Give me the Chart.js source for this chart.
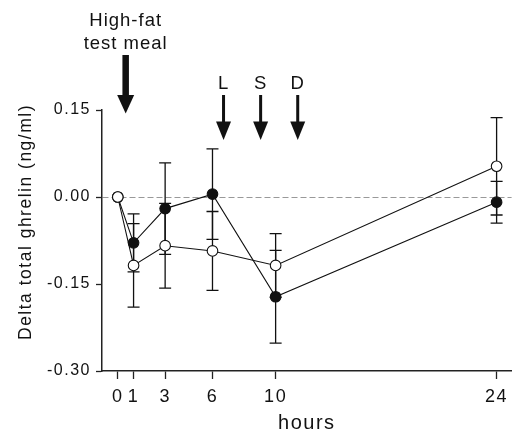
<!DOCTYPE html>
<html>
<head>
<meta charset="utf-8">
<script src="https://cdn.jsdelivr.net/npm/chart.js@4.4.0/dist/chart.umd.min.js"></script>
<style>
  html, body { margin: 0; padding: 0; background: #fff; }
</style>
</head>
<body>
<canvas id="ghrelin" width="518" height="435"></canvas>
<script>
// time points (hours after the test meal)
var hours = [0, 1, 3, 6, 10, 24];
var xTicks = [0, 1, 3, 6, 10, 24];
var yTicks = [-0.30, -0.15, 0.00, 0.15];

// open circles: mean and error
var openMean = [0, -0.118, -0.084, -0.093, -0.118, 0.053];
var openErr  = [0, 0.072, 0.073, 0.068, 0.055, 0.084];
// filled circles: mean and error
var filledMean = [0, -0.079, -0.020, 0.005, -0.172, -0.009];
var filledErr  = [0, 0.050, 0.079, 0.078, 0.080, 0.036];

// meal arrows
var testMealHour = 0.5;
var testMealText = ['High-fat', 'test meal'];
var mealHours = [6.7, 9.05, 11.4];
var mealLabels = ['L', 'S', 'D'];

var yTitle = 'Delta total ghrelin (ng/ml)';
var xTitle = 'hours';

var FONT = "'Liberation Sans', Arial, sans-serif";
var INK = '#111';

function toPoints(means) {
  return hours.map(function (h, i) { return { x: h, y: means[i] }; });
}

// error bars, drawn under the points
var errorBars = {
  id: 'errorBars',
  beforeDatasetsDraw: function (chart) {
    var ctx = chart.ctx;
    var ys = chart.scales.y;
    chart.data.datasets.forEach(function (ds, i) {
      var meta = chart.getDatasetMeta(i);
      meta.data.forEach(function (pt, j) {
        var e = ds.errors[j];
        if (!e) return;
        var top = ys.getPixelForValue(ds.data[j].y + e);
        var bot = ys.getPixelForValue(ds.data[j].y - e);
        ctx.save();
        ctx.strokeStyle = INK;
        ctx.lineWidth = 1.3;
        ctx.beginPath();
        ctx.moveTo(pt.x, top); ctx.lineTo(pt.x, bot);
        ctx.moveTo(pt.x - 6, top); ctx.lineTo(pt.x + 6, top);
        ctx.moveTo(pt.x - 6, bot); ctx.lineTo(pt.x + 6, bot);
        ctx.stroke();
        ctx.restore();
      });
    });
  }
};

function arrow(ctx, x, y0, yHead, yTip, shaftW, headW) {
  ctx.fillRect(x - shaftW / 2, y0, shaftW, yHead - y0 + 1);
  ctx.beginPath();
  ctx.moveTo(x - headW / 2, yHead);
  ctx.lineTo(x + headW / 2, yHead);
  ctx.lineTo(x, yTip);
  ctx.closePath();
  ctx.fill();
}

// meal arrows, labels and the y title
var annotations = {
  id: 'annotations',
  beforeDraw: function (chart) {
    chart.ctx.letterSpacing = '1.5px';
  },
  afterDraw: function (chart) {
    var ctx = chart.ctx;
    var xs = chart.scales.x;
    ctx.save();
    ctx.fillStyle = INK;
    ctx.letterSpacing = '1px';
    ctx.textAlign = 'center';
    ctx.textBaseline = 'alphabetic';
    ctx.font = '18.5px ' + FONT;

    var xm = xs.getPixelForValue(testMealHour);
    ctx.fillText(testMealText[0], xm, 26);
    ctx.fillText(testMealText[1], xm, 48.5);
    arrow(ctx, xm, 55, 95, 113.5, 6.5, 17);

    mealHours.forEach(function (h, i) {
      var x = xs.getPixelForValue(h);
      ctx.fillText(mealLabels[i], x, 88.5);
      arrow(ctx, x, 95, 121.5, 140, 3, 15);
    });

    ctx.translate(26, 222);
    ctx.rotate(-Math.PI / 2);
    ctx.font = '17.5px ' + FONT;
    ctx.letterSpacing = '1.5px';
    ctx.textBaseline = 'middle';
    ctx.fillText(yTitle, 0, 0);
    ctx.restore();
  }
};

new Chart(document.getElementById('ghrelin'), {
  type: 'line',
  data: {
    datasets: [
      {
        label: 'open',
        data: toPoints(openMean),
        errors: openErr,
        borderColor: INK,
        borderWidth: 1.1,
        pointRadius: 5.3,
        pointBorderWidth: 1.1,
        pointBorderColor: INK,
        pointBackgroundColor: '#fff',
        tension: 0
      },
      {
        label: 'filled',
        data: toPoints(filledMean),
        errors: filledErr,
        borderColor: INK,
        borderWidth: 1.1,
        pointRadius: 5.3,
        pointBorderWidth: 1.1,
        pointBorderColor: INK,
        pointBackgroundColor: INK,
        tension: 0
      }
    ]
  },
  options: {
    responsive: false,
    animation: false,
    devicePixelRatio: 1,
    layout: { padding: { top: 110, left: 0, right: 0, bottom: 0 } },
    plugins: {
      legend: { display: false },
      tooltip: { enabled: false }
    },
    scales: {
      x: {
        type: 'linear',
        min: -1,
        max: 24.95,
        afterBuildTicks: function (s) {
          s.ticks = xTicks.map(function (v) { return { value: v }; });
        },
        afterFit: function (s) { s.height = 64; },
        ticks: {
          autoSkip: false,
          maxRotation: 0,
          padding: 7,
          color: INK,
          font: { family: FONT, size: 18 },
          callback: function (v) { return v; }
        },
        grid: {
          drawOnChartArea: false,
          drawTicks: true,
          tickLength: 8,
          tickColor: '#222',
          tickWidth: 1.3
        },
        border: { color: '#222', width: 1.5 },
        title: {
          display: true,
          text: xTitle,
          color: INK,
          font: { family: FONT, size: 20 },
          padding: { top: 0, bottom: 0 }
        }
      },
      y: {
        min: -0.30,
        max: 0.15,
        afterBuildTicks: function (s) {
          s.ticks = yTicks.map(function (v) { return { value: v }; });
        },
        afterFit: function (s) { s.width = 102; },
        ticks: {
          padding: 5,
          color: INK,
          font: { family: FONT, size: 16 },
          callback: function (v) { return Number(v).toFixed(2); }
        },
        grid: {
          drawOnChartArea: true,
          drawTicks: true,
          tickLength: 6,
          tickColor: '#222',
          tickWidth: 1.3,
          lineWidth: 1,
          color: function (c) {
            return c.tick && Math.abs(c.tick.value) < 1e-9 ? '#999' : 'rgba(0,0,0,0)';
          }
        },
        border: { color: '#222', width: 1.5, dash: [6, 3] }
      }
    }
  },
  plugins: [errorBars, annotations]
});
</script>
</body>
</html>
